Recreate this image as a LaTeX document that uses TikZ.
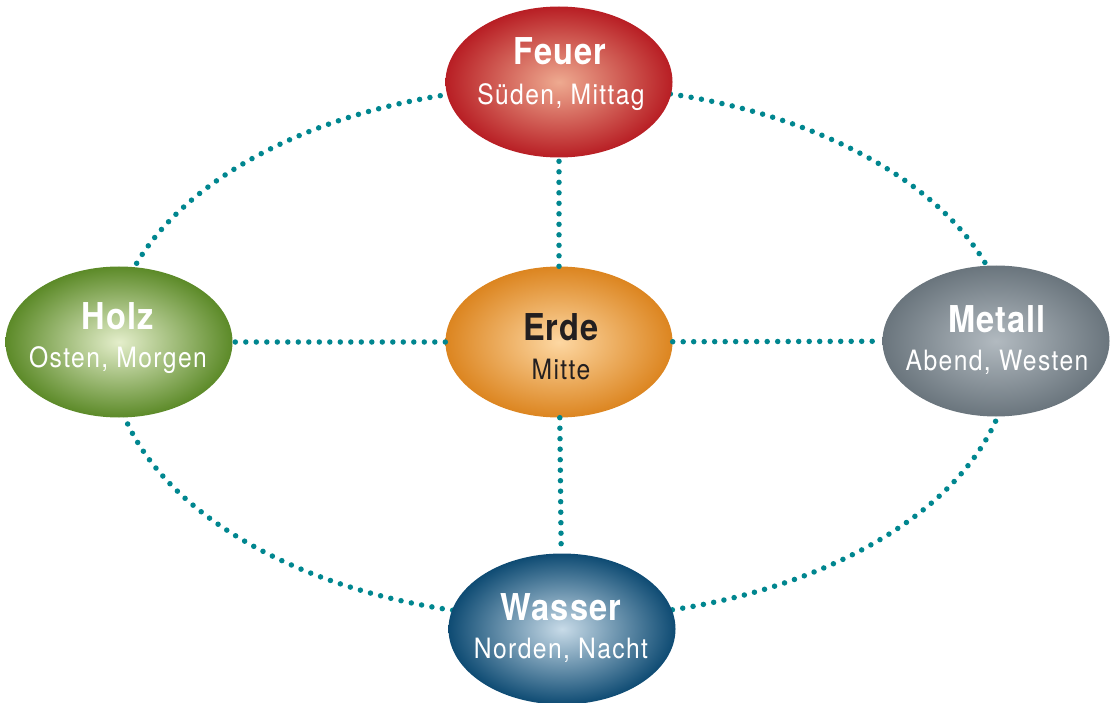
\documentclass[tikz,border=0pt]{standalone}
\usepackage{fontspec}
\usetikzlibrary{shapes.geometric}
\newfontfamily\titlefont[FakeStretch=0.88,LetterSpace=3]{TeX Gyre Heros}
\newfontfamily\subfont[FakeStretch=0.88,LetterSpace=5]{TeX Gyre Heros}
\definecolor{dotteal}{HTML}{00868F}
\definecolor{fireout}{HTML}{B81E24}\definecolor{firein}{HTML}{EEAA90}
\definecolor{woodout}{HTML}{5C8A28}\definecolor{woodin}{HTML}{E4EECB}
\definecolor{earthout}{HTML}{DC8520}\definecolor{earthin}{HTML}{FDD7A2}
\definecolor{metalout}{HTML}{6A757D}\definecolor{metalin}{HTML}{B2BAC0}
\definecolor{waterout}{HTML}{0E4B73}\definecolor{waterin}{HTML}{C8DBE8}
\definecolor{darktext}{HTML}{231F20}
\tikzset{
  elem/.style={ellipse, minimum width=227pt, minimum height=151pt, inner sep=0pt},
  dotline/.style={draw=dotteal, line width=5.5pt, line cap=round, dash pattern=on 0pt off 10.5pt},
  ttl/.style={anchor=base, inner sep=0pt, text=white, font=\titlefont\bfseries\fontsize{37}{40}\selectfont},
  sub/.style={anchor=base, inner sep=0pt, text=white, font=\subfont\fontsize{28}{30}\selectfont},
}
\begin{document}
\begin{tikzpicture}[x=1pt,y=-1pt]
\useasboundingbox (0,0) rectangle (1113,703);
% outer ring
\draw[dotline] (561,352) ellipse [x radius=450pt, y radius=266pt];
% nodes
\node[elem, inner color=firein, outer color=fireout] (feuer) at (559,82) {};
\node[elem, inner color=woodin, outer color=woodout] (holz) at (119,342) {};
\node[elem, inner color=earthin, outer color=earthout] (erde) at (559,342) {};
\node[elem, inner color=metalin, outer color=metalout] (metall) at (996,341) {};
\node[elem, inner color=waterin, outer color=waterout] (wasser) at (562,629) {};
% spokes
\draw[dotline] (erde) -- (feuer);
\draw[dotline] (erde) -- (holz);
\draw[dotline] (erde) -- (metall);
\draw[dotline] (erde) -- (wasser);
% texts
\node[ttl] (feuerT) at (560,65) {Feuer};
\node[sub] (feuerS) at (561,105) {Süden, Mittag};
\node[ttl] (holzT) at (118,329) {Holz};
\node[sub] (holzS) at (118,367) {Osten, Morgen};
\node[ttl, text=darktext] (erdeT) at (561,340) {Erde};
\node[sub, text=darktext] (erdeS) at (561,379) {Mitte};
\node[ttl] (metallT) at (997,332) {Metall};
\node[sub] (metallS) at (997,370) {Abend, Westen};
\node[ttl] (wasserT) at (561,620) {Wasser};
\node[sub] (wasserS) at (561,658) {Norden, Nacht};
\end{tikzpicture}
\end{document}
